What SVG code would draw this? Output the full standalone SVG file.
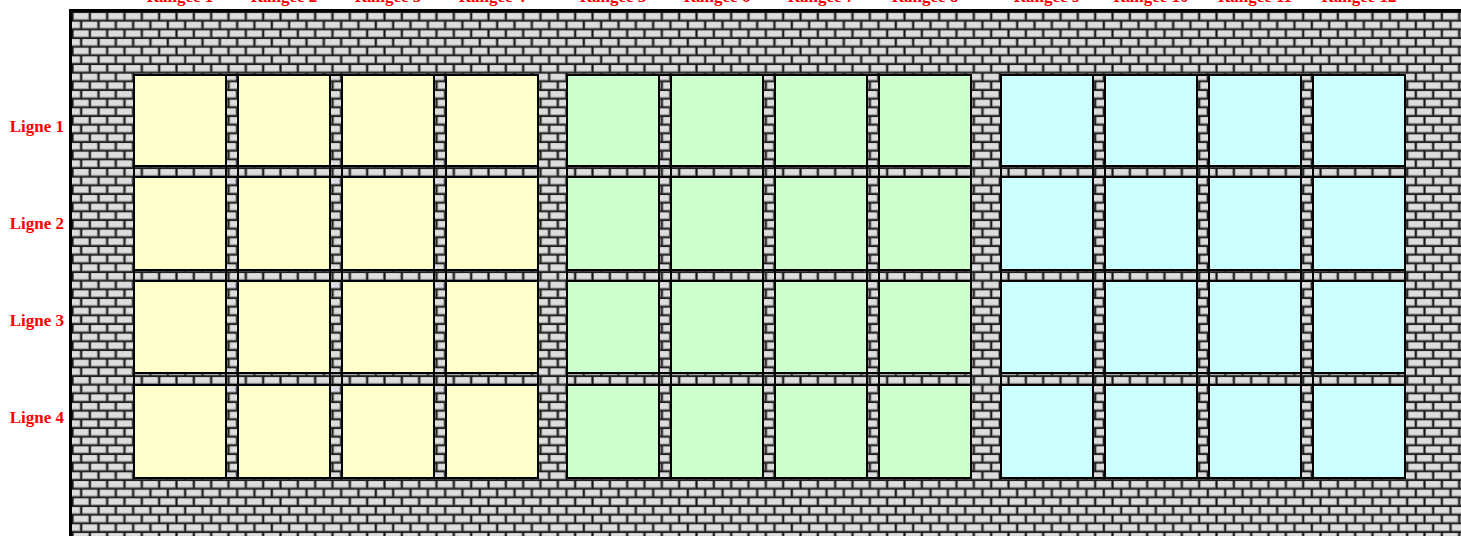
<svg xmlns="http://www.w3.org/2000/svg" xmlns:xlink="http://www.w3.org/1999/xlink" width="1461" height="536" viewBox="0 0 1461 536">
<style>
.lbl{font-family:"Liberation Serif","Times New Roman",serif;font-weight:bold;font-size:17px;fill:#ff0000}
.pane{stroke:#000;stroke-width:2}
.y{fill:#ffffcc}.g{fill:#ccffcc}.c{fill:#ccffff}
.frame{fill:none;stroke:#000;stroke-width:2}
</style>
<defs>
<g id="b"><rect x="1.4" y="1.1" width="15.6" height="6.9" fill="#8c8c8c"/><rect x="2" y="1.1" width="14.2" height="5.9" fill="#dddddd"/></g>
<pattern id="brick" patternUnits="userSpaceOnUse" x="72" y="12" width="34.667" height="17.333">
<rect width="34.667" height="17.333" fill="#1a1a1a"/>
<use xlink:href="#b" x="0" y="0"/><use xlink:href="#b" x="17.333" y="0"/>
<use xlink:href="#b" x="-8.667" y="8.667"/><use xlink:href="#b" x="8.667" y="8.667"/><use xlink:href="#b" x="26" y="8.667"/>
</pattern>
</defs>
<rect id="wall" x="70.5" y="10.5" width="1400" height="540" fill="url(#brick)" stroke="#000" stroke-width="3"/>
<g id="col-labels">
<text class="lbl" x="180" y="1.5" text-anchor="middle">Rangée 1</text>
<text class="lbl" x="284" y="1.5" text-anchor="middle">Rangée 2</text>
<text class="lbl" x="388" y="1.5" text-anchor="middle">Rangée 3</text>
<text class="lbl" x="492" y="1.5" text-anchor="middle">Rangée 4</text>
<text class="lbl" x="613" y="1.5" text-anchor="middle">Rangée 5</text>
<text class="lbl" x="717" y="1.5" text-anchor="middle">Rangée 6</text>
<text class="lbl" x="821" y="1.5" text-anchor="middle">Rangée 7</text>
<text class="lbl" x="925" y="1.5" text-anchor="middle">Rangée 8</text>
<text class="lbl" x="1047" y="1.5" text-anchor="middle">Rangée 9</text>
<text class="lbl" x="1151" y="1.5" text-anchor="middle">Rangée 10</text>
<text class="lbl" x="1255" y="1.5" text-anchor="middle">Rangée 11</text>
<text class="lbl" x="1359" y="1.5" text-anchor="middle">Rangée 12</text>
</g>
<g id="row-labels">
<text class="lbl" x="64" y="132" text-anchor="end">Ligne 1</text>
<text class="lbl" x="64" y="229" text-anchor="end">Ligne 2</text>
<text class="lbl" x="64" y="326" text-anchor="end">Ligne 3</text>
<text class="lbl" x="64" y="423" text-anchor="end">Ligne 4</text>
</g>
<g id="frame" class="frame">
<path d="M134 75V478M226 75V478M238 75V478M330 75V478M342 75V478M434 75V478M446 75V478M538 75V478M134 75H538M134 166H538M134 177H538M134 270H538M134 281H538M134 373H538M134 385H538M134 478H538"/>
<path d="M567 75V478M659 75V478M671 75V478M763 75V478M775 75V478M867 75V478M879 75V478M971 75V478M567 75H971M567 166H971M567 177H971M567 270H971M567 281H971M567 373H971M567 385H971M567 478H971"/>
<path d="M1001 75V478M1093 75V478M1105 75V478M1197 75V478M1209 75V478M1301 75V478M1313 75V478M1405 75V478M1001 75H1405M1001 166H1405M1001 177H1405M1001 270H1405M1001 281H1405M1001 373H1405M1001 385H1405M1001 478H1405"/>
</g>
<g id="group-yellow">
<rect id="p1-1" class="pane y" x="134" y="75" width="92" height="91"/><rect id="p1-2" class="pane y" x="238" y="75" width="92" height="91"/><rect id="p1-3" class="pane y" x="342" y="75" width="92" height="91"/><rect id="p1-4" class="pane y" x="446" y="75" width="92" height="91"/>
<rect id="p2-1" class="pane y" x="134" y="177" width="92" height="93"/><rect id="p2-2" class="pane y" x="238" y="177" width="92" height="93"/><rect id="p2-3" class="pane y" x="342" y="177" width="92" height="93"/><rect id="p2-4" class="pane y" x="446" y="177" width="92" height="93"/>
<rect id="p3-1" class="pane y" x="134" y="281" width="92" height="92"/><rect id="p3-2" class="pane y" x="238" y="281" width="92" height="92"/><rect id="p3-3" class="pane y" x="342" y="281" width="92" height="92"/><rect id="p3-4" class="pane y" x="446" y="281" width="92" height="92"/>
<rect id="p4-1" class="pane y" x="134" y="385" width="92" height="93"/><rect id="p4-2" class="pane y" x="238" y="385" width="92" height="93"/><rect id="p4-3" class="pane y" x="342" y="385" width="92" height="93"/><rect id="p4-4" class="pane y" x="446" y="385" width="92" height="93"/>
</g>
<g id="group-green">
<rect id="p1-5" class="pane g" x="567" y="75" width="92" height="91"/><rect id="p1-6" class="pane g" x="671" y="75" width="92" height="91"/><rect id="p1-7" class="pane g" x="775" y="75" width="92" height="91"/><rect id="p1-8" class="pane g" x="879" y="75" width="92" height="91"/>
<rect id="p2-5" class="pane g" x="567" y="177" width="92" height="93"/><rect id="p2-6" class="pane g" x="671" y="177" width="92" height="93"/><rect id="p2-7" class="pane g" x="775" y="177" width="92" height="93"/><rect id="p2-8" class="pane g" x="879" y="177" width="92" height="93"/>
<rect id="p3-5" class="pane g" x="567" y="281" width="92" height="92"/><rect id="p3-6" class="pane g" x="671" y="281" width="92" height="92"/><rect id="p3-7" class="pane g" x="775" y="281" width="92" height="92"/><rect id="p3-8" class="pane g" x="879" y="281" width="92" height="92"/>
<rect id="p4-5" class="pane g" x="567" y="385" width="92" height="93"/><rect id="p4-6" class="pane g" x="671" y="385" width="92" height="93"/><rect id="p4-7" class="pane g" x="775" y="385" width="92" height="93"/><rect id="p4-8" class="pane g" x="879" y="385" width="92" height="93"/>
</g>
<g id="group-cyan">
<rect id="p1-9" class="pane c" x="1001" y="75" width="92" height="91"/><rect id="p1-10" class="pane c" x="1105" y="75" width="92" height="91"/><rect id="p1-11" class="pane c" x="1209" y="75" width="92" height="91"/><rect id="p1-12" class="pane c" x="1313" y="75" width="92" height="91"/>
<rect id="p2-9" class="pane c" x="1001" y="177" width="92" height="93"/><rect id="p2-10" class="pane c" x="1105" y="177" width="92" height="93"/><rect id="p2-11" class="pane c" x="1209" y="177" width="92" height="93"/><rect id="p2-12" class="pane c" x="1313" y="177" width="92" height="93"/>
<rect id="p3-9" class="pane c" x="1001" y="281" width="92" height="92"/><rect id="p3-10" class="pane c" x="1105" y="281" width="92" height="92"/><rect id="p3-11" class="pane c" x="1209" y="281" width="92" height="92"/><rect id="p3-12" class="pane c" x="1313" y="281" width="92" height="92"/>
<rect id="p4-9" class="pane c" x="1001" y="385" width="92" height="93"/><rect id="p4-10" class="pane c" x="1105" y="385" width="92" height="93"/><rect id="p4-11" class="pane c" x="1209" y="385" width="92" height="93"/><rect id="p4-12" class="pane c" x="1313" y="385" width="92" height="93"/>
</g>
</svg>
